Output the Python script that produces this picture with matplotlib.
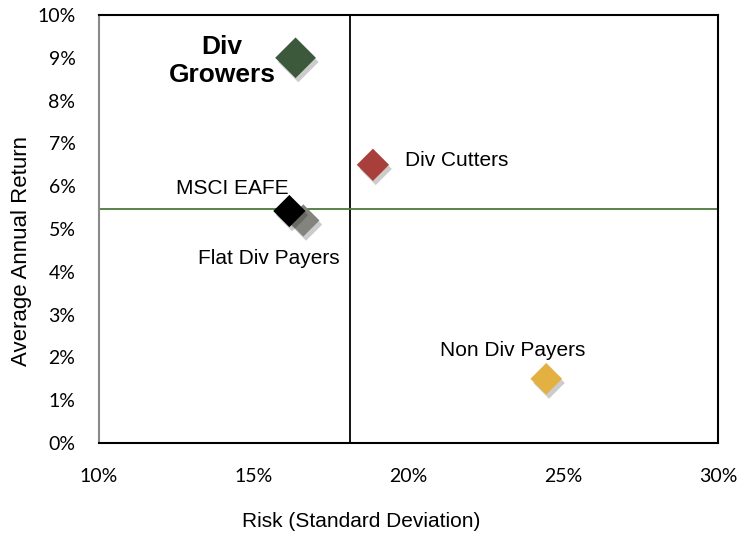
import matplotlib
matplotlib.use("Agg")
import matplotlib.pyplot as plt
import matplotlib.patheffects as pe
from matplotlib.ticker import FuncFormatter

# data (percent)
names = ["Div\nGrowers", "Div Cutters", "MSCI EAFE", "Flat Div Payers", "Non Div Payers"]
risk = [16.35, 18.85, 16.15, 16.6, 24.45]
ret = [9.0, 6.5, 5.42, 5.2, 1.5]
colors = ["#3c5a3b", "#a93f3a", "#000000", "#84847e", "#e3b042"]
sizes = [430, 270, 270, 270, 260]

# label anchor points (percent) and style
label_x = [13.97, 19.9, 14.3, 15.5, 23.35]
label_y = [8.93, 6.6, 5.95, 4.32, 2.15]
label_ha = ["center", "left", "center", "center", "center"]

avg_risk = 18.1
avg_ret = 5.47

fig = plt.figure(figsize=(7.48, 5.38), dpi=100)
ax = fig.add_axes([0.1324, 0.1766, 0.8275, 0.7955])

ax.axvline(avg_risk, color="black", lw=1.3, zorder=1)
ax.axhline(avg_ret, color="#4b7a3a", lw=1.3, zorder=1)

# draw grey before black so black sits on top like the reference
order = [0, 1, 4, 3, 2]
shadow = [pe.SimplePatchShadow(offset=(2, -3), shadow_rgbFace="#000000", alpha=0.2), pe.Normal()]
for i in order:
    ax.scatter(risk[i], ret[i], s=sizes[i], marker="D", color=colors[i],
               edgecolors="none", zorder=3, path_effects=shadow)

for i, name in enumerate(names):
    bold = i == 0
    ax.text(label_x[i], label_y[i], name, ha=label_ha[i], va="center",
            fontsize=19 if bold else 15, fontweight="bold" if bold else "normal",
            family="Liberation Sans", linespacing=1.2, zorder=4)

ax.set_xlim(10, 30)
ax.set_ylim(0, 10)
ax.set_xticks([10, 15, 20, 25, 30])
ax.set_yticks(range(0, 11))
pct = FuncFormatter(lambda v, p: f"{v:.0f}%")
ax.xaxis.set_major_formatter(pct)
ax.yaxis.set_major_formatter(pct)
ax.tick_params(length=0, labelsize=14)
ax.tick_params(axis="x", pad=18)
ax.tick_params(axis="y", pad=17)
for lab in ax.get_xticklabels() + ax.get_yticklabels():
    lab.set_family("Lato")

for side in ["top", "right", "bottom"]:
    ax.spines[side].set_color("black")
    ax.spines[side].set_linewidth(1.5)
ax.spines["left"].set_color("#8a8a8a")
ax.spines["left"].set_linewidth(1.5)

ax.set_xlabel("Risk (Standard Deviation)", family="Liberation Sans", fontsize=15)
ax.xaxis.set_label_coords(0.423, -0.162)
ax.set_ylabel("Average Annual Return", family="Liberation Sans", fontsize=16)
ax.yaxis.set_label_coords(-0.108, 0.449)

fig.savefig("out.png", dpi=100)
